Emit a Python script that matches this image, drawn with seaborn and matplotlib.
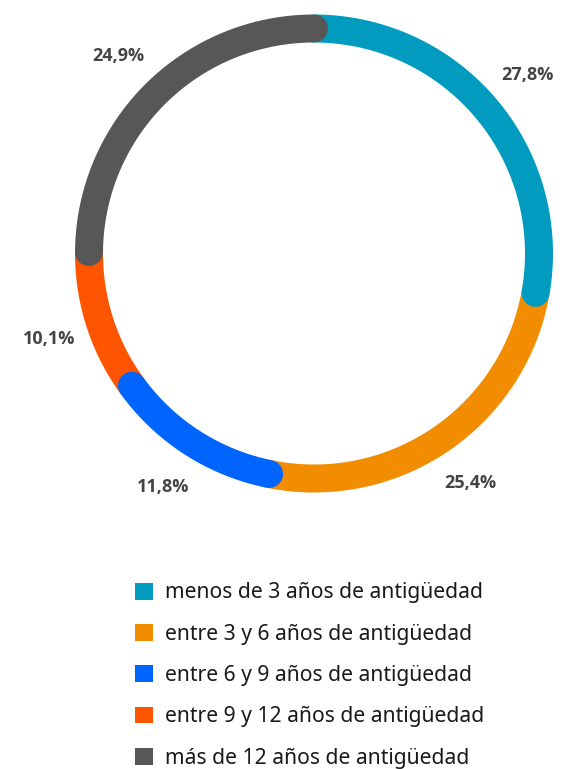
import numpy as np
import matplotlib
matplotlib.use("Agg")
import matplotlib.pyplot as plt
from matplotlib.patches import Patch
import seaborn as sns

categories = ["menos de 3 años de antigüedad", "entre 3 y 6 años de antigüedad",
              "entre 6 y 9 años de antigüedad", "entre 9 y 12 años de antigüedad",
              "más de 12 años de antigüedad"]
values = [27.8, 25.4, 11.8, 10.1, 24.9]
labels = ["27,8%", "25,4%", "11,8%", "10,1%", "24,9%"]
colors = ["#009BBF", "#F28C00", "#0064FF", "#FF5500", "#575757"]

sns.set_theme(style="white")
plt.rcParams['font.family'] = ['Noto Sans', 'DejaVu Sans']

W, H = 573, 769
fig = plt.figure(figsize=(W / 100, H / 100), dpi=100)
ax = fig.add_axes([0, 0, 1, 1])
ax.set_xlim(0, W)
ax.set_ylim(H, 0)
ax.set_aspect('equal')
ax.axis('off')

cx, cy, r = 314, 253.5, 225
ring_px = 28
lw = ring_px * 72 / 100

total = sum(values)
starts = np.cumsum([0] + values[:-1]) / total * 360
ends = np.cumsum(values) / total * 360

draw_order = [1, 3, 0, 2, 4]
for i in draw_order:
    th = np.radians(np.linspace(starts[i], ends[i], 300))
    ax.plot(cx + r * np.sin(th), cy - r * np.cos(th), color=colors[i], lw=lw,
            solid_capstyle='round', zorder=2 + draw_order.index(i))

lr = 278
for i in range(len(values)):
    mid = np.radians((starts[i] + ends[i]) / 2)
    ax.text(cx + lr * np.sin(mid), cy - lr * np.cos(mid), labels[i],
            ha='center', va='center', fontsize=13, fontweight='bold', color='#444444',
            family=['Open Sans', 'DejaVu Sans'])

handles = [Patch(facecolor=c, edgecolor='none') for c in colors]
leg = fig.legend(handles, categories, loc='upper left', bbox_to_anchor=(127 / W, 1 - 574 / H),
                 frameon=False, fontsize=15.2, handlelength=0.85, handleheight=0.85,
                 handletextpad=0.55, labelspacing=0.96, labelcolor='#1a1a1a', borderaxespad=0)

fig.savefig("out.png", dpi=100)
